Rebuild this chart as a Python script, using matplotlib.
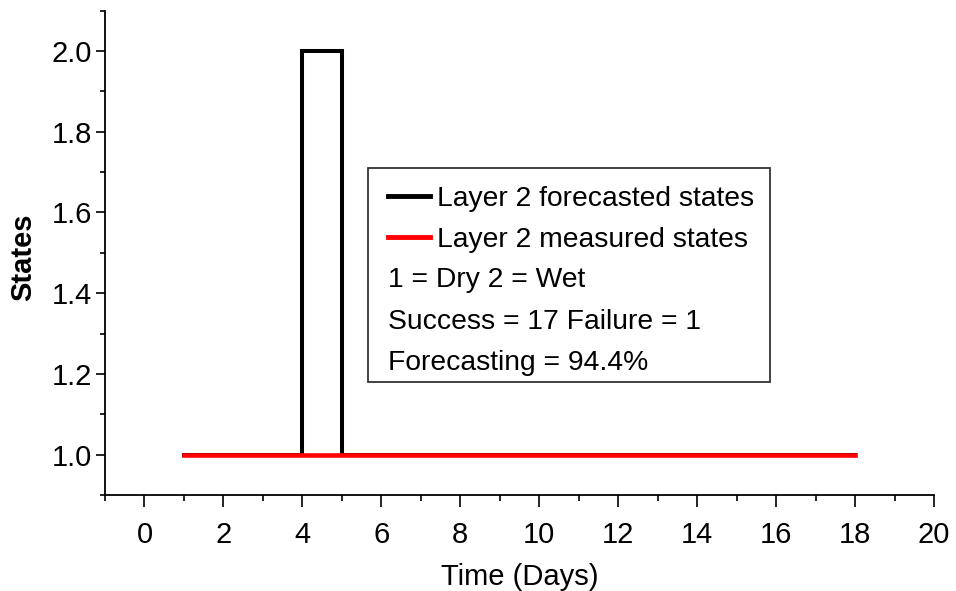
import matplotlib
matplotlib.use("Agg")
import matplotlib.pyplot as plt
from matplotlib.lines import Line2D
from matplotlib.patches import Rectangle
from matplotlib.ticker import MultipleLocator

# Data
days = list(range(1, 19))
forecasted = [1, 1, 1, 2, 1, 1, 1, 1, 1, 1, 1, 1, 1, 1, 1, 1, 1, 1]
measured = [1] * 18
legend_labels = ["Layer 2 forecasted states", "Layer 2 measured states"]
info_lines = ["1 = Dry 2 = Wet", "Success = 17 Failure = 1", "Forecasting = 94.4%"]
x_label = "Time (Days)"
y_label = "States"

plt.rcParams['font.family'] = ['Liberation Sans', 'DejaVu Sans']

fig = plt.figure(figsize=(9.56, 5.91), dpi=100)
ax = fig.add_axes([105/956, 1-495/591, 829/956, 484.4/591])

ax.plot(days, forecasted, color='black', lw=2.9, drawstyle='steps-post', solid_joinstyle='miter', zorder=2)
ax.plot(days, measured, color='red', lw=3.3, zorder=3)

ax.set_xlim(-1, 20)
ax.set_ylim(0.9, 2.1)
ax.xaxis.set_major_locator(MultipleLocator(2))
ax.xaxis.set_minor_locator(MultipleLocator(1))
ax.yaxis.set_major_locator(MultipleLocator(0.2))
ax.yaxis.set_minor_locator(MultipleLocator(0.1))
ax.yaxis.set_major_formatter(matplotlib.ticker.FormatStrFormatter('%.1f'))

for s in ['top', 'right']:
    ax.spines[s].set_visible(False)
for s in ['left', 'bottom']:
    ax.spines[s].set_linewidth(1.3)

ax.tick_params(axis='x', which='major', direction='out', length=8.5, width=1.2, labelsize=21, pad=10)
ax.tick_params(axis='x', which='minor', direction='out', length=4.5, width=1.2)
ax.tick_params(axis='y', which='major', direction='out', length=6.5, width=1.2, labelsize=21, pad=3)
ax.tick_params(axis='y', which='minor', direction='out', length=3.5, width=1.2)

ax.set_xlabel(x_label, fontsize=21)
ax.xaxis.set_label_coords(0.5, -0.14)
ax.set_ylabel(y_label, fontsize=21, fontweight='bold')
ax.yaxis.set_label_coords(-0.082, 0.49)

# Legend box
box_x0, box_y0 = (368-105)/829, (495-382)/484.4
box_w, box_h = (770-368)/829, (382-168)/484.4
ax.add_patch(Rectangle((box_x0, box_y0), box_w, box_h, transform=ax.transAxes,
                       fill=True, facecolor='white', edgecolor='#333333', lw=1.3, zorder=5))

handles = [Line2D([], [], color='black', lw=3.5), Line2D([], [], color='red', lw=3.5)]
leg = ax.legend(handles, legend_labels, loc='upper left',
                bbox_to_anchor=((388-105)/829, (495-186)/484.4),
                frameon=False, fontsize=20.3, handlelength=1.5, handletextpad=0.25,
                labelspacing=0.52, borderaxespad=0, borderpad=0)
leg.set_zorder(6)

for i, t in enumerate(info_lines):
    yc = (495 - (280 + i*41.7)) / 484.4
    ax.text((388-105)/829, yc, t, transform=ax.transAxes, fontsize=20.3,
            va='center', ha='left', zorder=7)

fig.savefig("out.png", dpi=100)
